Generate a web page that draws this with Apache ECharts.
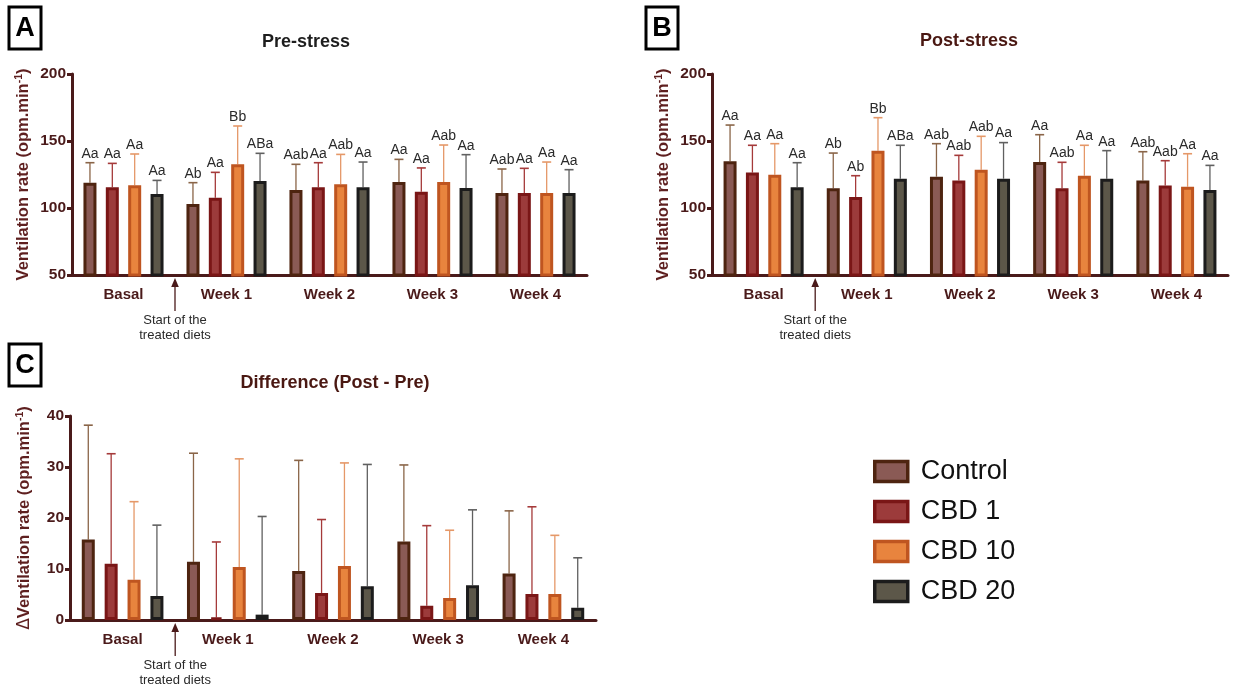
<!DOCTYPE html>
<html>
<head>
<meta charset="utf-8">
<script src="https://cdn.jsdelivr.net/npm/echarts@6/dist/echarts.min.js"></script>
<style>
  html, body { margin: 0; padding: 0; background: #fff; }
  #chart { width: 1235px; height: 690px; }
</style>
</head>
<body>
<div id="chart"></div>
<script>
// ---------------- DATA ----------------
const categories = ['Basal', 'Week 1', 'Week 2', 'Week 3', 'Week 4'];
const groups = ['Control', 'CBD 1', 'CBD 10', 'CBD 20'];
const dietStartAfter = 'Basal';

// Pre-stress (mean, upper SD) rows: Control, CBD 1, CBD 10, CBD 20
const preMean = [
  [118.9, 103.0, 113.4, 119.4, 111.2],
  [115.4, 107.7, 115.4, 112.2, 111.2],
  [116.9, 132.6, 117.7, 119.4, 111.2],
  [110.4, 120.1, 115.4, 114.9, 111.2]
];
const preSD = [
  [14.9, 15.9, 19.2, 16.9, 17.9],
  [17.9, 18.9, 18.4, 17.7, 18.4],
  [23.4, 28.6, 22.3, 27.6, 23.1],
  [10.2, 20.7, 18.9, 24.9, 17.4]
];
const preLetters = [
  ['Aa', 'Ab', 'Aab', 'Aa', 'Aab'],
  ['Aa', 'Aa', 'Aa', 'Aa', 'Aa'],
  ['Aa', 'Bb', 'Aab', 'Aab', 'Aa'],
  ['Aa', 'ABa', 'Aa', 'Aa', 'Aa']
];

// Post-stress
const postMean = [
  [134.8, 114.7, 123.4, 134.3, 120.6],
  [126.4, 108.2, 120.6, 114.7, 116.7],
  [124.9, 142.8, 128.6, 124.1, 115.9],
  [115.4, 121.9, 121.9, 121.9, 113.4]
];
const postSD = [
  [27.1, 26.3, 24.6, 20.4, 21.4],
  [20.4, 15.9, 18.7, 19.4, 18.6],
  [23.1, 24.6, 24.9, 22.7, 24.6],
  [18.4, 24.9, 26.9, 20.9, 18.4]
];
const postLetters = [
  ['Aa', 'Ab', 'Aab', 'Aa', 'Aab'],
  ['Aa', 'Ab', 'Aab', 'Aab', 'Aab'],
  ['Aa', 'Bb', 'Aab', 'Aa', 'Aa'],
  ['Aa', 'ABa', 'Aa', 'Aa', 'Aa']
];

// Difference (Post - Pre)
const diffMean = [
  [15.8, 11.4, 9.6, 15.4, 9.1],
  [11.05, 0.5, 5.3, 2.8, 5.1],
  [7.9, 10.4, 10.6, 4.3, 5.1],
  [4.7, 1.05, 6.6, 6.8, 2.4]
];
const diffSD = [
  [22.4, 21.3, 21.7, 15.0, 12.3],
  [21.55, 14.8, 14.4, 15.7, 17.1],
  [15.3, 21.2, 20.2, 13.3, 11.5],
  [13.9, 19.25, 23.9, 14.8, 9.8]
];

const yTicksAB = [50, 200, 50];   // min, max, interval
const yTicksC = [0, 40, 10];

// ---------------- STYLE ----------------
const FONT = '"Liberation Sans", Arial, sans-serif';
const AXIS = '#4a1a1a';
const fills = ['#8a5a55', '#9c3b3b', '#e8843e', '#5c5749'];
const borders = ['#4e2410', '#7a1616', '#bf5520', '#1c1c1c'];
const whisk = ['#8a6548', '#a53a3a', '#e59868', '#606060'];
const BARW = 13;

function superName(prefix) {
  return prefix + '{m|Ventilation rate (opm.min}{s|-1}{m|)}';
}

function makeAxes(gi, range, nameGap, withDelta) {
  const x = {
    type: 'category', gridIndex: gi, data: categories,
    axisLine: { lineStyle: { color: AXIS, width: 3 } },
    axisTick: { alignWithLabel: true, length: 6, lineStyle: { color: AXIS, width: 3 } },
    axisLabel: { color: AXIS, fontWeight: 'bold', fontSize: 15, margin: 12, fontFamily: FONT }
  };
  const y = {
    type: 'value', gridIndex: gi, min: range[0], max: range[1], interval: range[2],
    axisLine: { show: true, lineStyle: { color: AXIS, width: 3 } },
    axisTick: { show: true, length: 5, lineStyle: { color: AXIS, width: 3 } },
    axisLabel: { color: AXIS, fontWeight: 'bold', fontSize: 15.5, margin: 6, fontFamily: FONT },
    splitLine: { show: false },
    name: superName(withDelta ? '{d|\u0394}' : ''),
    nameLocation: 'middle', nameGap: nameGap,
    nameTextStyle: {
      rich: {
        m: { fontSize: 16.5, fontWeight: 'bold', color: '#5e1f1f', fontFamily: FONT, lineHeight: 19 },
        s: { fontSize: 10.5, fontWeight: 'bold', color: '#5e1f1f', fontFamily: FONT, verticalAlign: 'top', lineHeight: 19 },
        d: { fontSize: 17, fontWeight: 'normal', color: '#5e1f1f', fontFamily: 'DejaVu Sans', lineHeight: 19 }
      }
    }
  };
  return [x, y];
}

function makeSeries(gi, means, sds, letters, gapRatio) {
  const out = [];
  for (let i = 0; i < 4; i++) {
    out.push({
      type: 'bar', name: groups[i], xAxisIndex: gi, yAxisIndex: gi,
      data: means[i], barWidth: BARW, barGap: Math.round(gapRatio * 100) + '%',
      itemStyle: { color: fills[i], borderColor: borders[i], borderWidth: 3 },
      emphasis: { disabled: true }, z: 3, animation: false
    });
  }
  for (let i = 0; i < 4; i++) {
    const idx = i;
    out.push({
      type: 'custom', name: 'err' + gi + '_' + i, xAxisIndex: gi, yAxisIndex: gi,
      data: means[i].map((m, k) => [k, m, sds[i][k]]),
      z: 2, animation: false, silent: true,
      renderItem: function (params, api) {
        const cat = api.value(0), mean = api.value(1), sd = api.value(2);
        const p0 = api.coord([cat, mean]);
        const p1 = api.coord([cat, mean + sd]);
        const step = BARW * (1 + gapRatio);
        const x = p0[0] + (idx - 1.5) * step;
        const children = [
          { type: 'line', shape: { x1: x, y1: p0[1], x2: x, y2: p1[1] }, style: { stroke: whisk[idx], lineWidth: 1.3 } },
          { type: 'line', shape: { x1: x - 4.5, y1: p1[1], x2: x + 4.5, y2: p1[1] }, style: { stroke: whisk[idx], lineWidth: 1.6 } }
        ];
        if (letters) {
          children.push({ type: 'text', style: { text: letters[idx][params.dataIndex], x: x, y: p1[1] - 2, align: 'center', verticalAlign: 'bottom', fill: '#2a2a2a', font: '14px ' + FONT } });
        }
        return { type: 'group', children: children };
      }
    });
  }
  // arrow marking start of treated diets
  const after = categories.indexOf(dietStartAfter);
  out.push({
    type: 'custom', name: 'arrow' + gi, xAxisIndex: gi, yAxisIndex: gi,
    data: [[after]], z: 5, animation: false, silent: true,
    renderItem: function (params, api) {
      const yMin = gi === 2 ? yTicksC[0] : yTicksAB[0];
      const a = api.coord([after, yMin]);
      const b = api.coord([after + 1, yMin]);
      const x = (a[0] + b[0]) / 2, y0 = a[1];
      return {
        type: 'group', children: [
          { type: 'line', shape: { x1: x, y1: y0 + 9, x2: x, y2: y0 + 36 }, style: { stroke: '#4a1a1a', lineWidth: 1.3 } },
          { type: 'polygon', shape: { points: [[x, y0 + 3], [x - 3.8, y0 + 12], [x + 3.8, y0 + 12]] }, style: { fill: '#4a1a1a' } },
          { type: 'text', style: { text: 'Start of the', x: x, y: y0 + 45, align: 'center', verticalAlign: 'middle', fill: '#2a2a2a', font: '13px ' + FONT } },
          { type: 'text', style: { text: 'treated diets', x: x, y: y0 + 60, align: 'center', verticalAlign: 'middle', fill: '#2a2a2a', font: '13px ' + FONT } }
        ]
      };
    }
  });
  return out;
}

const axA = makeAxes(0, yTicksAB, 39, false);
const axB = makeAxes(1, yTicksAB, 39, false);
const axC = makeAxes(2, yTicksC, 36, true);

function panelBox(letter, x, y) {
  return [
    { type: 'rect', shape: { x: x, y: y, width: 32, height: 42 }, style: { fill: '#fff', stroke: '#000', lineWidth: 3 }, z: 10 },
    { type: 'text', style: { text: letter, x: x + 16, y: y + 22, align: 'center', verticalAlign: 'middle', fill: '#000', font: 'bold 27px ' + FONT }, z: 11 }
  ];
}

const option = {
  animation: false,
  textStyle: { fontFamily: FONT },
  title: [
    { text: 'Pre-stress', left: 306, top: 33, textAlign: 'center', padding: 0, textStyle: { fontSize: 18, fontWeight: 'bold', color: '#1e1e1e', fontFamily: FONT } },
    { text: 'Post-stress', left: 969, top: 32, textAlign: 'center', padding: 0, textStyle: { fontSize: 18, fontWeight: 'bold', color: '#4a1812', fontFamily: FONT } },
    { text: 'Difference (Post - Pre)', left: 335, top: 374, textAlign: 'center', padding: 0, textStyle: { fontSize: 18, fontWeight: 'bold', color: '#4a1812', fontFamily: FONT } }
  ],
  grid: [
    { left: 72, top: 74, width: 515, height: 201 },
    { left: 712, top: 74, width: 516, height: 201 },
    { left: 70, top: 416, width: 526, height: 204 }
  ],
  xAxis: [axA[0], axB[0], axC[0]],
  yAxis: [axA[1], axB[1], axC[1]],
  legend: {
    data: groups.map(g => ({ name: g, icon: 'rect' })), orient: 'vertical', left: 868, top: 453,
    itemWidth: 33, itemHeight: 20, itemGap: 13,
    textStyle: { fontSize: 27, color: '#111', fontFamily: FONT, padding: [0, 0, 0, 8] },
    selectedMode: false,
    itemStyle: { borderWidth: 3.5 }
  },
  graphic: [].concat(panelBox('A', 9, 7), panelBox('B', 646, 7), panelBox('C', 9, 344)),
  series: [].concat(
    makeSeries(0, preMean, preSD, preLetters, 0.72),
    makeSeries(1, postMean, postSD, postLetters, 0.72),
    makeSeries(2, diffMean, diffSD, null, 0.76)
  )
};

const chart = echarts.init(document.getElementById('chart'), null, { renderer: 'canvas' });
chart.setOption(option);
</script>
</body>
</html>
